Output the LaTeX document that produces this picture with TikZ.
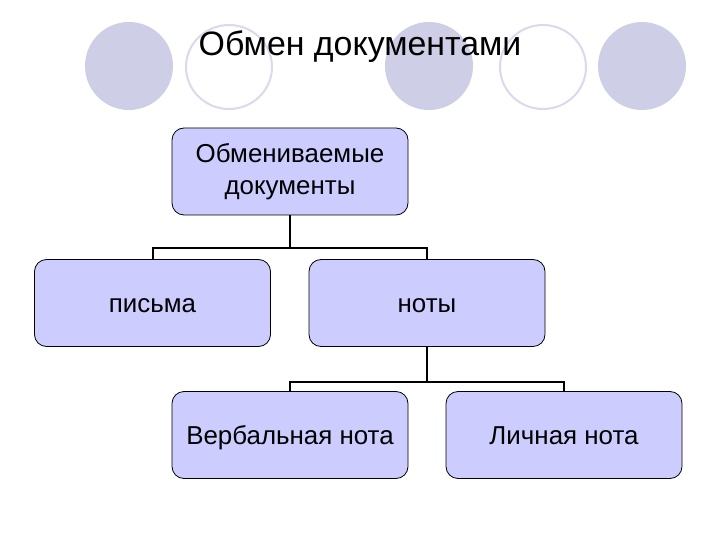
\documentclass[tikz,border=0pt]{standalone}
\usepackage{fontspec}
\setmainfont{Liberation Sans}
\usetikzlibrary{positioning}

\definecolor{boxfill}{RGB}{204,204,255}
\definecolor{dotfill}{RGB}{206,206,230}
\definecolor{dotline}{RGB}{218,218,236}

\begin{document}
\begin{tikzpicture}[
    x=1bp, y=-1bp,
    box/.style={rectangle, draw=black, line width=0.8pt, fill=boxfill, rounded corners=12bp,
        minimum width=236bp, minimum height=87bp, inner sep=2pt, align=center,
        font=\fontsize{26}{32}\selectfont},
    onebox/.style={box, text height=23bp, text depth=4bp},
    conn/.style={line width=2bp, black},
    dotfull/.style={fill=dotfill, draw=none},
    dotring/.style={draw=dotline, line width=2bp, fill=white}
]
\useasboundingbox (0,0) rectangle (720,540);

% decoration dots behind the title
\fill[dotfull] (129,66) ellipse [x radius=44, y radius=44];
\draw[dotring] (229,67) ellipse [x radius=43, y radius=42];
\fill[dotfull] (429,66) ellipse [x radius=44, y radius=44];
\draw[dotring] (543,67) ellipse [x radius=43, y radius=42];
\fill[dotfull] (642,66) ellipse [x radius=44, y radius=44];

% title
\node (title) at (360,47) {\fontsize{34}{40}\selectfont Обмен документами};

% boxes
\node[box] (docs) at (290,171.5) {Обмениваемые\\документы};
\node[onebox] (letters) at (152.5,303) {письма};
\node[onebox] (notes) at (427,303) {ноты};
\node[onebox] (verbal) at (290,435) {Вербальная нота};
\node[onebox] (personal) at (564,435) {Личная нота};

% connectors
\coordinate (j1) at (290,248);
\coordinate (j2) at (427,382);
\draw[conn] (docs.south) -- (j1);
\draw[conn] (letters.north) |- (j1) -| (notes.north);
\draw[conn] (notes.south) -- (j2);
\draw[conn] (verbal.north) |- (j2) -| (personal.north);

\end{tikzpicture}
\end{document}
